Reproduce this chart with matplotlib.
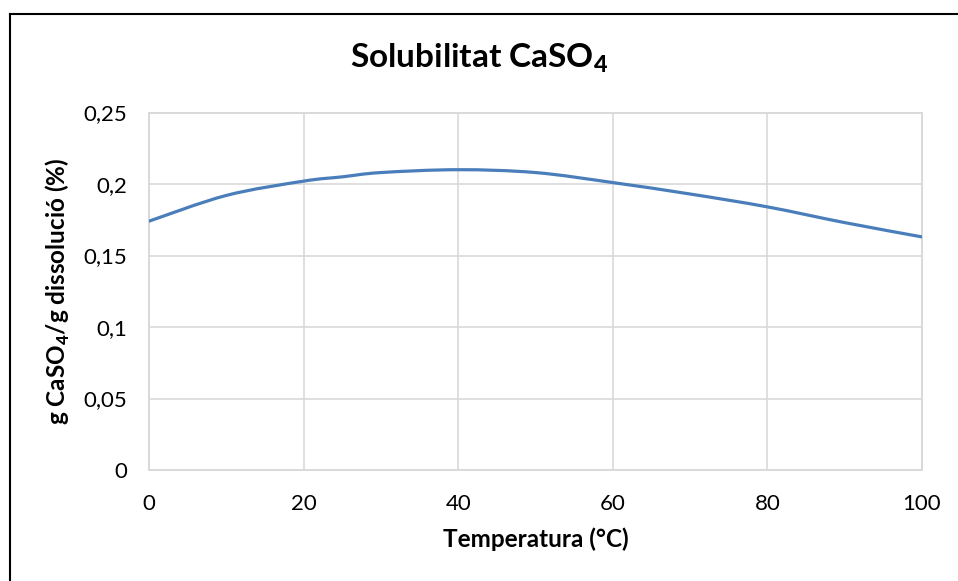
import numpy as np
import matplotlib.pyplot as plt
from matplotlib.path import Path
from matplotlib.patches import PathPatch
from matplotlib.lines import Line2D

# Data
temperature = [0, 10, 20, 25, 30, 40, 50, 60, 70, 80, 90, 100]
solubility = [0.174, 0.192, 0.202, 0.205, 0.208, 0.210, 0.208, 0.201, 0.193, 0.184, 0.173, 0.163]

x_ticks = [0, 20, 40, 60, 80, 100]
y_ticks = [0, 0.05, 0.1, 0.15, 0.2, 0.25]
y_tick_labels = ["0", "0,05", "0,1", "0,15", "0,2", "0,25"]

plt.rcParams['font.family'] = ['Lato', 'DejaVu Sans']
plt.rcParams['mathtext.fontset'] = 'custom'
plt.rcParams['mathtext.rm'] = 'Lato'
plt.rcParams['mathtext.bf'] = 'Lato:weight=black'

grid_col = '#d9d9d9'
line_col = '#4a7ebb'


def smooth_path(xs, ys):
    # Excel-style smoothed line: Catmull-Rom segments as cubic Bezier curves
    xs = np.asarray(xs, float)
    ys = np.asarray(ys, float)
    n = len(xs)
    verts = [(xs[0], ys[0])]
    codes = [Path.MOVETO]
    for i in range(n - 1):
        p0 = i - 1 if i > 0 else i
        p3 = i + 2 if i + 2 < n else i + 1
        c1 = (xs[i] + (xs[i + 1] - xs[p0]) / 6, ys[i] + (ys[i + 1] - ys[p0]) / 6)
        c2 = (xs[i + 1] - (xs[p3] - xs[i]) / 6, ys[i + 1] - (ys[p3] - ys[i]) / 6)
        verts += [c1, c2, (xs[i + 1], ys[i + 1])]
        codes += [Path.CURVE4] * 3
    return Path(verts, codes)


fig = plt.figure(figsize=(9.58, 5.81), dpi=100)
ax = fig.add_axes([149 / 958, 1 - 470 / 581, (922 - 149) / 958, (470 - 112.5) / 581])

patch = PathPatch(smooth_path(temperature, solubility), facecolor='none',
                  edgecolor=line_col, linewidth=2.3, capstyle='round', zorder=3)
ax.add_patch(patch)

ax.set_xlim(0, 100)
ax.set_ylim(0, 0.25)
ax.set_xticks(x_ticks)
ax.set_yticks(y_ticks)
ax.set_yticklabels(y_tick_labels)
ax.tick_params(length=0, labelsize=16, colors='#000000')
ax.tick_params(axis='y', pad=16)
ax.tick_params(axis='x', pad=17)
ax.grid(True, color=grid_col, linewidth=1.2)
for s in ax.spines.values():
    s.set_color(grid_col)
    s.set_linewidth(1.4)
ax.set_axisbelow(True)

ax.set_xlabel("Temperatura (°C)", fontsize=17.5, fontweight='bold', labelpad=10)
ax.set_ylabel(r"g CaSO$_\mathbf{4}$/g dissolució (%)", fontsize=17.5, fontweight='bold', labelpad=8)

fig.text(0.5, 1 - 58 / 581, r"Solubilitat CaSO$_\mathbf{4}$", ha='center', va='center',
         fontsize=24, fontweight='bold')

# outer chart border (only top and left visible in the crop)
fig.add_artist(Line2D([9.5 / 958, 9.5 / 958], [0, 1 - 14 / 581], color='black', linewidth=1.5,
                      transform=fig.transFigure))
fig.add_artist(Line2D([9.5 / 958, 1], [1 - 14 / 581, 1 - 14 / 581], color='black', linewidth=1.5,
                      transform=fig.transFigure))

fig.savefig('out.png', dpi=100)
